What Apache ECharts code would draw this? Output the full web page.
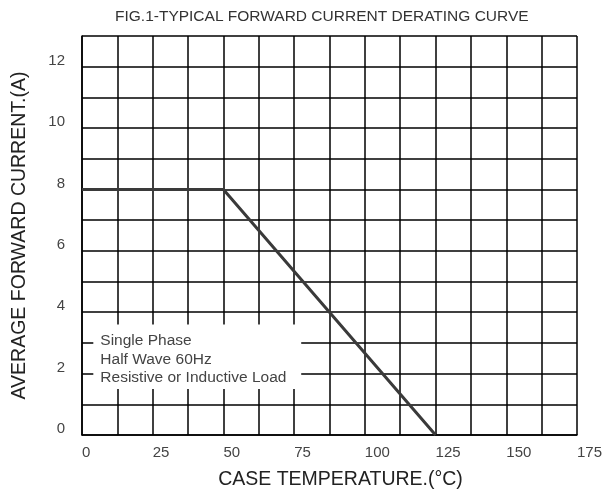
<!DOCTYPE html>
<html>
<head>
<meta charset="utf-8">
<script src="https://cdn.jsdelivr.net/npm/echarts@6/dist/echarts.min.js"></script>
<style>html,body{margin:0;padding:0;background:#fff}#c{width:607px;height:495px}</style>
</head>
<body>
<div id="c"></div>
<script>
// Data
var caseTemp = [0, 50, 125];
var avgCurrent = [8, 8, 0];
var noteLines = ['Single Phase', 'Half Wave 60Hz', 'Resistive or Inductive Load'];
var titleText = 'FIG.1-TYPICAL FORWARD CURRENT DERATING CURVE';
var xName = 'CASE TEMPERATURE.(\u00B0C)';
var yName = 'AVERAGE FORWARD CURRENT.(A)';

var chart = echarts.init(document.getElementById('c'));
var font = 'Liberation Sans, Arial, sans-serif';
chart.setOption({
  animation: false,
  backgroundColor: '#fff',
  title: {
    text: titleText, left: 110, top: 4,
    textStyle: {fontFamily: font, fontSize: 15.5, fontWeight: 'normal', color: '#333'}
  },
  grid: {left: 82, right: 30, top: 36, bottom: 60},
  xAxis: {
    type: 'value', min: 0, max: 175, interval: 12.5,
    name: xName, nameLocation: 'middle', nameGap: 35,
    nameTextStyle: {fontFamily: font, fontSize: 19.5, color: '#222', padding: [0, 0, 0, 22]},
    axisLine: {show: true, lineStyle: {color: '#000', width: 1.5}},
    axisTick: {show: false},
    splitLine: {show: true, lineStyle: {color: '#000', width: 1.5}},
    axisLabel: {
      fontFamily: font, fontSize: 15, color: '#444', align: 'left', margin: 10,
      formatter: function (v) { return v % 25 === 0 ? String(v) : ''; }
    }
  },
  yAxis: {
    type: 'value', min: 0, max: 13, interval: 1,
    name: yName, nameLocation: 'middle', nameGap: 52, nameRotate: 90,
    nameTextStyle: {fontFamily: font, fontSize: 19.5, color: '#222'},
    axisLine: {show: true, lineStyle: {color: '#000', width: 1.5}},
    axisTick: {show: false},
    splitLine: {show: true, lineStyle: {color: '#000', width: 1.5}},
    axisLabel: {
      fontFamily: font, fontSize: 15, color: '#444', margin: 17, verticalAlign: 'bottom', lineHeight: 12,
      formatter: function (v) { return v % 2 === 0 ? String(v) : ''; }
    }
  },
  series: [{
    type: 'line',
    data: caseTemp.map(function (t, i) { return [t, avgCurrent[i]]; }),
    showSymbol: false,
    lineStyle: {color: '#3a3a3a', width: 3},
    markArea: {
      silent: true,
      itemStyle: {color: '#fff', opacity: 1},
      label: {
        show: true, position: 'insideTopLeft', distance: 7,
        fontFamily: font, fontSize: 15.5, color: '#444', lineHeight: 18.5,
        formatter: noteLines.join('\n')
      },
      data: [[{coord: [4, 3.6]}, {coord: [77.5, 1.5]}]]
    }
  }]
});
</script>
</body>
</html>
